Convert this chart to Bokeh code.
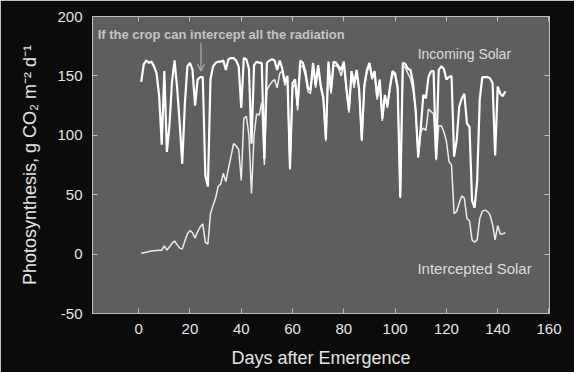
from bokeh.plotting import figure
from bokeh.models import (Range1d, FixedTicker, LinearAxis, Label, Arrow, OpenHead,
                          ColumnDataSource)
from bokeh.embed import file_html
from bokeh.resources import INLINE

# ---------------- data ----------------
days = list(range(1, 144))

incoming_solar = [
    145, 160, 163, 161, 162, 158, 152, 133, 92, 154,
    86, 108, 145, 163, 140, 110, 76, 126, 158, 161,
    155, 125, 147, 149, 149, 66, 57, 147, 158, 161,
    162, 162, 163, 155, 164, 165, 165, 163, 158, 123,
    165, 164, 156, 93, 159, 162, 161, 161, 80, 161,
    163, 164, 163, 155, 163, 156, 145, 150, 72, 144,
    147, 125, 163, 161, 154, 140, 138, 161, 142, 159,
    142, 132, 97, 162, 137, 162, 161, 158, 155, 162,
    140, 121, 154, 144, 155, 138, 96, 142, 155, 161,
    149, 154, 132, 147, 114, 134, 125, 141, 154, 152,
    140, 48, 161, 160, 156, 155, 144, 121, 82, 106,
    134, 131, 149, 154, 154, 80, 155, 158, 156, 147,
    149, 150, 82, 96, 124, 131, 135, 110, 107, 45,
    39, 62, 130, 149, 149, 149, 148, 144, 83, 141,
    135, 133, 137,
]

intercepted_solar = [
    0.8, 1.2, 1.6, 2.2, 2.6, 2.8, 3.0, 3.2, 3.2, 7.0,
    3.4, 6, 9, 11, 8, 5, 4.2, 11, 17, 19.7,
    18, 13.5, 19, 23, 25.4, 9.8, 8.5, 34, 41, 47,
    57, 59, 68, 61, 72, 82, 93, 91, 88, 62,
    114, 116, 100, 51, 100, 118, 117, 128, 75, 138,
    142, 145, 147, 140, 152, 154, 142, 148, 71, 140,
    143, 121, 158, 158, 150, 137, 135, 158, 140, 156,
    140, 130, 95, 160, 135, 158, 159, 156, 150, 160,
    138, 119, 152, 140, 153, 136, 95, 140, 153, 159,
    147, 152, 130, 145, 112, 132, 123, 139, 152, 150,
    138, 47, 159, 157, 152, 148, 138, 122, 81, 103,
    106, 104, 122, 120, 118, 79, 108, 108, 103, 95,
    78, 75, 34, 36, 43, 49, 47, 30, 28, 12,
    10, 12, 30, 36, 37, 36, 33, 25, 12, 24,
    17, 17, 18,
]

x_ticks = [0, 20, 40, 60, 80, 100, 120, 140, 160]
y_ticks = [-50, 0, 50, 100, 150, 200]
y_tick_labels = ["-50", "0", "50", "100", "150", "200"]

note_text = "If the crop can intercept all the radiation"
incoming_text = "Incoming Solar"
intercepted_text = "Intercepted Solar"

# ---------------- figure ----------------
FONT = "Liberation Sans"
FG = "#e4e4e4"
FRAME = "#bdbdbd"

p = figure(width=574, height=372, output_backend="svg", toolbar_location=None,
           x_range=Range1d(-18, 160.2), y_range=Range1d(-50, 200),
           background_fill_color="#5e5e5e", border_fill_color="#0b0b0b",
           min_border_left=92, min_border_right=25, min_border_top=16,
           min_border_bottom=59)
p.grid.visible = False
p.outline_line_color = FRAME
p.outline_line_width = 1

src = ColumnDataSource(dict(day=days, inc=incoming_solar, itc=intercepted_solar))
p.line("day", "itc", source=src, line_color="#ececec", line_width=1.5)
p.line("day", "inc", source=src, line_color="#ffffff", line_width=2.2)


def style_axis(ax):
    ax.axis_line_color = None
    ax.major_tick_line_color = FRAME
    ax.major_tick_in = 5
    ax.major_tick_out = 0
    ax.minor_tick_line_color = None
    ax.major_label_text_color = FG
    ax.major_label_text_font = FONT
    ax.major_label_text_font_size = "15px"
    ax.axis_label_text_color = FG
    ax.axis_label_text_font = FONT
    ax.axis_label_text_font_style = "normal"
    ax.axis_label_text_font_size = "18px"


xa = p.xaxis[0]
ya = p.yaxis[0]
xa.ticker = FixedTicker(ticks=x_ticks)
ya.ticker = FixedTicker(ticks=y_ticks)
ya.major_label_overrides = dict(zip(y_ticks, y_tick_labels))
style_axis(xa)
style_axis(ya)
xa.axis_label = "Days after Emergence"
ya.axis_label = "Photosynthesis, g CO\u2082 m\u207b\u00b2 d\u207b\u00b9"
xa.major_label_standoff = 10
xa.axis_label_standoff = 11
ya.major_label_standoff = 10
ya.axis_label_standoff = 14

top = LinearAxis(ticker=FixedTicker(ticks=x_ticks))
right = LinearAxis(ticker=FixedTicker(ticks=y_ticks))
top.major_label_overrides = {t: "" for t in x_ticks}
right.major_label_overrides = {t: "" for t in y_ticks}
for ax in (top, right):
    style_axis(ax)
    ax.major_label_standoff = 0
p.add_layout(top, "above")
p.add_layout(right, "right")

p.add_layout(Label(x=-16, y=184.5, text=note_text, text_font=FONT,
                   text_font_size="13px", text_font_style="bold",
                   text_color="#c4c4c4", text_baseline="middle"))
p.add_layout(Arrow(x_start=24.3, y_start=178, x_end=24.3, y_end=154,
                   line_color="#bcbcbc", line_width=1,
                   end=OpenHead(size=7, line_color="#bcbcbc", line_width=1)))
p.add_layout(Label(x=108.8, y=168.5, text=incoming_text, text_font=FONT,
                   text_font_size="14px", text_color="#dcdcdc",
                   text_baseline="middle"))
p.add_layout(Label(x=108.7, y=-12, text=intercepted_text, text_font=FONT,
                   text_font_size="15px", text_color="#dcdcdc",
                   text_baseline="middle"))

open("out.html", "w").write(file_html(p, INLINE))
